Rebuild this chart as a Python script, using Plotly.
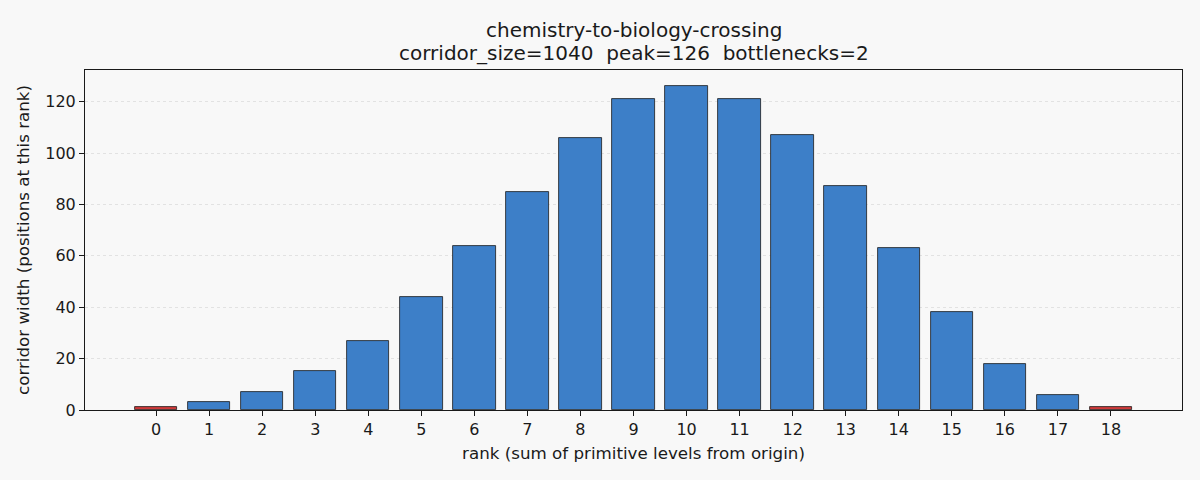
import plotly.graph_objects as go

ranks = list(range(19))
widths = [1, 3, 7, 15, 27, 44, 64, 85, 106, 121, 126, 121, 107, 87, 63, 38, 18, 6, 1]
bottlenecks = [0, 18]
title_lines = ["chemistry-to-biology-crossing",
               "corridor_size=1040\u00a0\u00a0peak=126\u00a0\u00a0bottlenecks=2"]

colors = ["#d03a3a" if r in bottlenecks else "#3d7fc8" for r in ranks]

fig = go.Figure(go.Bar(
    x=ranks, y=widths, width=0.8,
    marker=dict(color=colors, line=dict(color="#1a1a1a", width=0.8)),
))

# two title lines as separate annotations so they sit where matplotlib put them
for text, ypos in zip(title_lines, [1.1176, 1.05]):
    fig.add_annotation(
        text=text, xref="paper", yref="paper", x=0.5, y=ypos,
        xanchor="center", yanchor="middle", showarrow=False,
        font=dict(size=20, color="#1a1a1a"),
    )

fig.update_layout(
    width=1200, height=480,
    paper_bgcolor="#f8f8f8", plot_bgcolor="#f8f8f8",
    margin=dict(l=85, r=18, t=70, b=70),
    font=dict(family="DejaVu Sans", size=16, color="#1a1a1a"),
    showlegend=False,
    bargap=0,
)
fig.update_xaxes(
    range=[-1.34, 19.34], tickmode="array", tickvals=ranks,
    ticks="outside", ticklen=5, tickcolor="#1a1a1a",
    showline=True, linecolor="#1a1a1a", linewidth=1, mirror=True,
    showgrid=False, zeroline=False,
    title=dict(text="rank (sum of primitive levels from origin)", standoff=9,
               font=dict(size=16.7)),
    tickfont=dict(size=16),
)
fig.update_yaxes(
    range=[0, 132.3], tickvals=[0, 20, 40, 60, 80, 100, 120],
    ticks="outside", ticklen=5, tickcolor="#1a1a1a",
    showline=True, linecolor="#1a1a1a", linewidth=1, mirror=True,
    showgrid=True, gridcolor="#e2e2e2", griddash="dot", gridwidth=0.8,
    zeroline=False,
    title=dict(text="corridor width (positions at this rank)", standoff=11,
               font=dict(size=16.7)),
    tickfont=dict(size=16),
)

fig.write_html(
    "out.html",
    config={"displayModeBar": False},
    post_script="document.body.style.margin='0';document.body.style.background='#f8f8f8';",
)
